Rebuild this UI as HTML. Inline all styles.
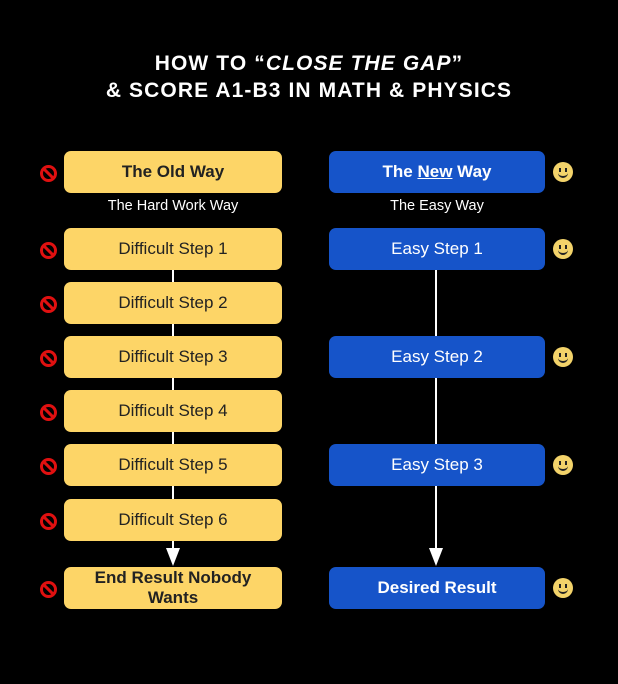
<!DOCTYPE html>
<html><head><meta charset="utf-8"><style>
body{margin:0;width:618px;height:684px;background:#000;position:relative;overflow:hidden;font-family:"Liberation Sans",sans-serif}
.t{position:absolute;left:0;width:618px;text-align:center;color:#fff;font-weight:bold;font-size:21px;letter-spacing:1.1px}
.b{position:absolute;height:42px;border-radius:7px;display:flex;align-items:center;justify-content:center;text-align:center;font-size:17px;line-height:20px}
.y{left:64px;width:218px;background:#fdd567;color:#222}
.u{left:329px;width:216px;background:#1654c9;color:#fff}
.s{position:absolute;color:#fff;font-size:14.5px;text-align:center}
.no{position:absolute;left:40px;width:11px;height:11px;border:3px solid #e01010;border-radius:50%}
.no:after{content:"";position:absolute;left:4px;top:-1px;width:3px;height:13px;background:#e01010;transform:rotate(-45deg)}
.sm{position:absolute;left:553px;width:20px;height:20px;border-radius:50%;background:#f3d36a}
.sm:before{content:"";position:absolute;left:6px;top:6px;width:2px;height:4px;background:#222;box-shadow:6px 0 #222}
.sm:after{content:"";position:absolute;left:5px;top:9px;width:10px;height:5px;border-bottom:2px solid #222;border-radius:0 0 6px 6px}
</style></head><body>
<div class="t" style="top:52px">HOW TO “<i>CLOSE THE GAP</i>”</div>
<div class="t" style="top:79px">&amp; SCORE A1-B3 IN MATH &amp; PHYSICS</div>
<svg style="position:absolute;left:0;top:0" width="618" height="684">
<line x1="173" y1="270" x2="173" y2="550" stroke="#fff" stroke-width="2"/>
<polygon points="166,548 180,548 173,566" fill="#fff"/>
<line x1="436" y1="270" x2="436" y2="550" stroke="#fff" stroke-width="2"/>
<polygon points="429,548 443,548 436,566" fill="#fff"/>
</svg>
<div class="b y" style="top:151px;font-weight:bold">The Old Way</div>
<div class="b u" style="top:151px;font-weight:bold">The&nbsp;<u>New</u>&nbsp;Way</div>
<div class="s" style="left:64px;width:218px;top:198px">The Hard Work Way</div>
<div class="s" style="left:329px;width:216px;top:198px">The Easy Way</div>
<div class="b y" style="top:228px">Difficult Step 1</div>
<div class="b y" style="top:282px">Difficult Step 2</div>
<div class="b y" style="top:336px">Difficult Step 3</div>
<div class="b y" style="top:390px">Difficult Step 4</div>
<div class="b y" style="top:444px">Difficult Step 5</div>
<div class="b y" style="top:499px">Difficult Step 6</div>
<div class="b y" style="top:567px;font-weight:bold">End Result Nobody<br>Wants</div>
<div class="b u" style="top:228px">Easy Step 1</div>
<div class="b u" style="top:336px">Easy Step 2</div>
<div class="b u" style="top:444px">Easy Step 3</div>
<div class="b u" style="top:567px;font-weight:bold">Desired Result</div>
<div class="no" style="top:165px"></div><div class="no" style="top:242px"></div><div class="no" style="top:296px"></div><div class="no" style="top:350px"></div><div class="no" style="top:404px"></div><div class="no" style="top:458px"></div><div class="no" style="top:513px"></div><div class="no" style="top:581px"></div>
<div class="sm" style="top:162px"></div><div class="sm" style="top:239px"></div><div class="sm" style="top:347px"></div><div class="sm" style="top:455px"></div><div class="sm" style="top:578px"></div>
</body></html>
